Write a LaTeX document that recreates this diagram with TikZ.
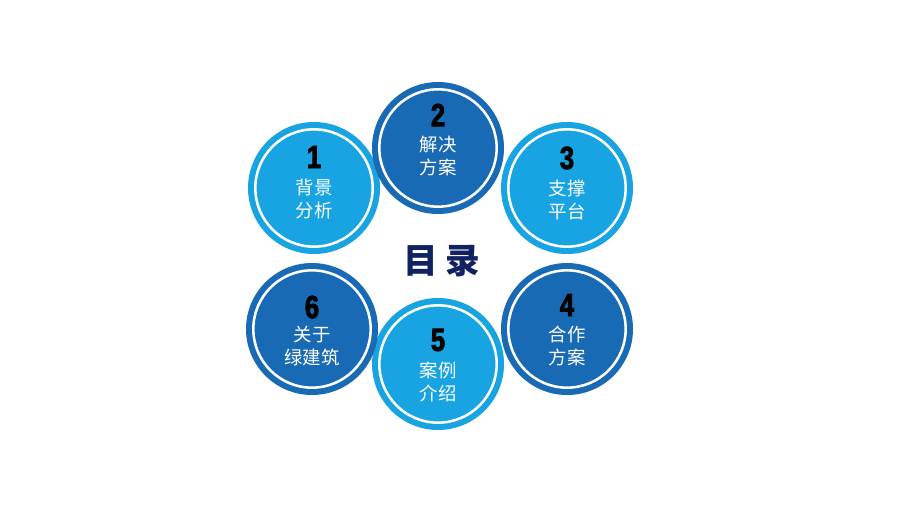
\documentclass[tikz,border=0pt]{standalone}
\usepackage{fontspec}
\newfontfamily\cjk{Noto Sans CJK SC}
\newfontfamily\numfont[FakeStretch=0.8, BoldFeatures={FakeBold=2.5}]{Liberation Sans}
\definecolor{lightblue}{RGB}{24,164,226}
\definecolor{darkblue}{RGB}{24,106,180}
\definecolor{navy}{RGB}{16,34,98}
\tikzset{
  disc/.style={circle, inner sep=0pt, minimum size=99pt},
  ring/.style={circle, inner sep=0pt, minimum size=88pt, draw=white, line width=1.9pt},
  num/.style={font=\numfont\bfseries\fontsize{24}{24}\selectfont, text=black, inner sep=0pt},
  txt/.style={font=\cjk\fontsize{13.8}{17.5}\selectfont, text=white, align=center, inner sep=0pt}
}
\begin{document}
\begin{tikzpicture}[x=0.75pt, y=-0.75pt]
  \useasboundingbox[fill=white] (0,0) rectangle (920,519);
  % Circles
  \node (c1) [disc, fill=lightblue] at (314, 188) {};
  \node (c2) [disc, fill=darkblue] at (438, 148) {};
  \node (c3) [disc, fill=lightblue] at (567, 188) {};
  \node (c4) [disc, fill=darkblue] at (567, 329) {};
  \node (c5) [disc, fill=lightblue] at (438, 364) {};
  \node (c6) [disc, fill=darkblue] at (312, 329) {};
  \node [ring] at (c1) {};
  \node [ring] at (c2) {};
  \node [ring] at (c3) {};
  \node [ring] at (c4) {};
  \node [ring] at (c5) {};
  \node [ring] at (c6) {};
  % Numbers
  \node (n1) [num] at (314, 157) {1};
  \node (n2) [num] at (438, 115) {2};
  \node (n3) [num] at (567, 158) {3};
  \node (n4) [num] at (567, 305) {4};
  \node (n5) [num] at (438, 340) {5};
  \node (n6) [num] at (312, 307) {6};
  % Labels
  \node (t1) [txt] at (314, 199) {背景\\分析};
  \node (t2) [txt] at (438, 156) {解决\\方案};
  \node (t3) [txt] at (567, 200) {支撑\\平台};
  \node (t4) [txt] at (567, 346) {合作\\方案};
  \node (t5) [txt] at (438, 382) {案例\\介绍};
  \node (t6) [txt] at (312, 346) {关于\\绿建筑};
  % Header
  \node (title) [font=\cjk\bfseries\fontsize{26}{26}\selectfont, text=navy] at (442, 261) {目 录};
\end{tikzpicture}
\end{document}
